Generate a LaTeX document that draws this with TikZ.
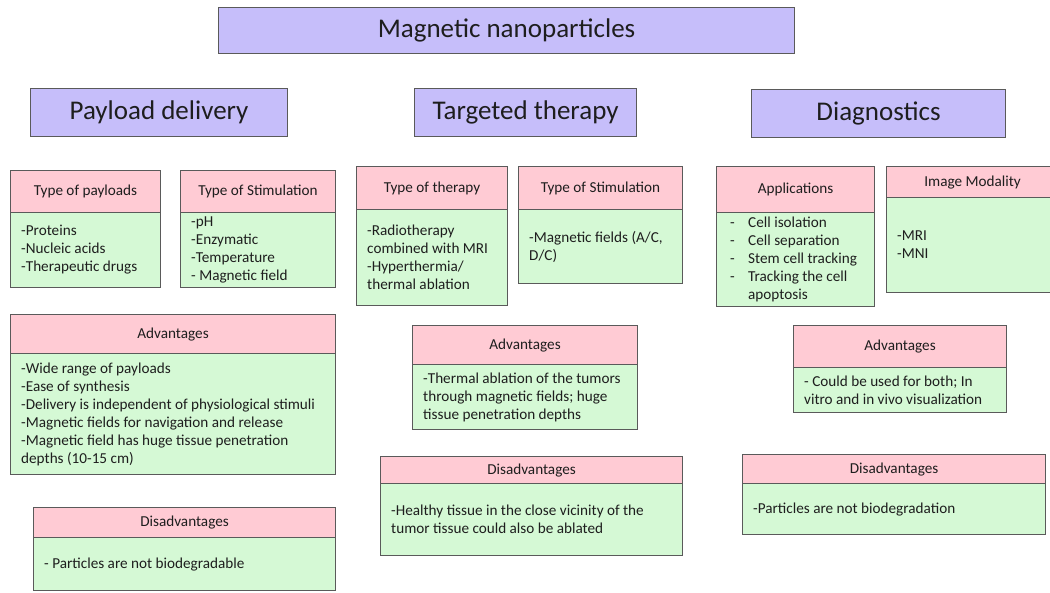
\documentclass[tikz,border=0pt]{standalone}
\usepackage{fontspec}
\setmainfont{Carlito}
\definecolor{lav}{RGB}{198,190,250}
\definecolor{pinkc}{RGB}{255,203,212}
\definecolor{greenc}{RGB}{213,249,213}
\definecolor{edge}{RGB}{90,90,90}
\definecolor{ink}{RGB}{30,30,30}
\tikzset{
  panel/.style={draw=edge, line width=1.1pt, inner sep=0pt, anchor=north west},
  toptext/.style={inner sep=0pt, text=ink, font=\fontsize{27}{30}\selectfont},
  headtext/.style={inner sep=0pt, text=ink, font=\fontsize{15.2}{18}\selectfont},
  bodytext/.style={inner sep=0pt, text=ink, align=left, anchor=west, font=\fontsize{15.2}{18}\selectfont},
}
% box: name, x1, y1, x2, y2, fill
\newcommand\panelbox[6]{%
  \pgfmathsetmacro\pw{#4-#2}\pgfmathsetmacro\ph{#5-#3}%
  \node[panel, fill=#6, minimum width=\pw pt, minimum height=\ph pt] (#1) at (#2,#3) {};
}
\newcommand\topcard[6]{%
  \panelbox{#1}{#2}{#3}{#4}{#5}{lav}%
  \node[toptext] (#1t) at (#1.center) {#6};
}
\newcommand\card[8]{%
  \panelbox{#1b}{#2}{#5}{#4}{#6}{greenc}%
  \panelbox{#1h}{#2}{#3}{#4}{#5}{pinkc}%
  \node[headtext] (#1ht) at (#1h.center) {#7};
  \node[bodytext] (#1bt) at ([xshift=11pt]#1b.west) {#8};
}
\newcommand\bul[1]{\makebox[21pt][l]{\hspace*{3pt}-}#1}
\begin{document}
\begin{tikzpicture}[x=1pt,y=-1pt]
\useasboundingbox (0,0) rectangle (1050,592);
\fill[white] (0,0) rectangle (1050,592);
\clip (0,0) rectangle (1050,592);

\topcard{title}{218}{7}{794}{53}{Magnetic nanoparticles}
\topcard{payload}{30}{88}{287}{136}{Payload delivery}
\topcard{targeted}{414}{88}{636}{136}{Targeted therapy}
\topcard{diag}{751}{89}{1005}{137}{Diagnostics}

\card{ptype}{10}{170}{160}{212}{287}{Type of payloads}{-Proteins\\-Nucleic acids\\-Therapeutic drugs}
\card{pstim}{180}{170}{335}{212}{287}{Type of Stimulation}{-pH\\-Enzymatic\\-Temperature\\- Magnetic field}
\card{padv}{10}{314}{335}{353}{474}{Advantages}{-Wide range of payloads\\-Ease of synthesis\\-Delivery is independent of physiological stimuli\\-Magnetic fields for navigation and release\\-Magnetic field has huge tissue penetration\\depths (10-15 cm)}
\card{pdis}{33}{507}{335}{537}{590}{Disadvantages}{- Particles are not biodegradable}

\card{ttype}{356}{166}{507}{209}{305}{Type of therapy}{-Radiotherapy\\combined with MRI\\-Hyperthermia/\\thermal ablation}
\card{tstim}{518}{166}{682}{209}{283}{Type of Stimulation}{-Magnetic fields (A/C,\\D/C)}
\card{tadv}{412}{325}{637}{364}{429}{Advantages}{-Thermal ablation of the tumors\\through magnetic fields; huge\\tissue penetration depths}
\card{tdis}{380}{456}{682}{483}{555}{Disadvantages}{-Healthy tissue in the close vicinity of the\\tumor tissue could also be ablated}

\card{dapp}{716}{166}{874}{212}{306}{Applications}{\bul{Cell isolation}\\\bul{Cell separation}\\\bul{Stem cell tracking}\\\bul{Tracking the cell}\\\hspace*{21pt}apoptosis}
\card{dimg}{886}{166}{1058}{197}{292}{Image Modality}{-MRI\\-MNI}
\card{dadv}{793}{325}{1006}{367}{412}{Advantages}{- Could be used for both; In\\vitro and in vivo visualization}
\card{ddis}{742}{454}{1045}{483}{534}{Disadvantages}{-Particles are not biodegradation}
\end{tikzpicture}
\end{document}
